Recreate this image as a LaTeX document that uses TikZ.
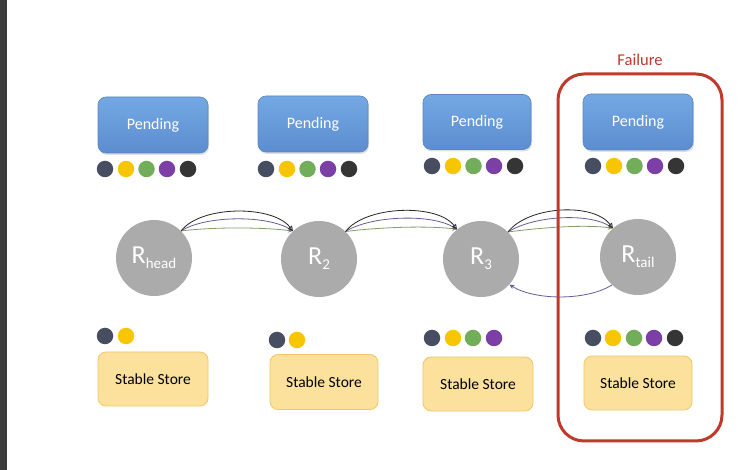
\documentclass[tikz,border=0pt]{standalone}
\usepackage{fontspec}
\setmainfont{Carlito}
\usetikzlibrary{arrows.meta,shadows}
\definecolor{dslate}{HTML}{474E62}
\definecolor{dyellow}{HTML}{F7C600}
\definecolor{dgreen}{HTML}{72AD5A}
\definecolor{dpurple}{HTML}{7B3FA6}
\definecolor{dblack}{HTML}{353535}
\definecolor{pendtop}{HTML}{74A8E3}
\definecolor{pendbot}{HTML}{5C8DD0}
\definecolor{pendline}{HTML}{5B86C2}
\definecolor{storefill}{HTML}{FCE19C}
\definecolor{storeline}{HTML}{F0C869}
\definecolor{circfill}{HTML}{ABABAB}
\definecolor{failred}{HTML}{C0392B}
\definecolor{arcpurple}{HTML}{6A5A9A}
\definecolor{arcgreen}{HTML}{7FA06A}
\definecolor{strip}{HTML}{3C3C3C}
\tikzset{
  pendbox/.style={draw=pendline, line width=0.6pt, rounded corners=8pt,
    top color=pendtop, bottom color=pendbot, minimum width=110pt, minimum height=56pt,
    text=white, font=\fontsize{16}{16}\selectfont,
    drop shadow={opacity=0.25, shadow xshift=1pt, shadow yshift=-2pt}},
  storebox/.style={draw=storeline, line width=0.8pt, rounded corners=8pt,
    fill=storefill, minimum width=108pt, minimum height=54pt,
    text=black, font=\fontsize{15.5}{16}\selectfont},
  replica/.style={circle, fill=circfill, minimum size=76pt, inner sep=0pt, text=white},
  dot/.style={circle, fill=#1, minimum size=16.5pt, inner sep=0pt},
  arcblack/.style={draw=black!85, line width=0.8pt, -{Triangle[open,length=5pt,width=5pt]}},
  arcpurp/.style={draw=arcpurple, line width=0.8pt, -{Stealth[length=5pt,width=4.5pt]}},
  arcgrn/.style={draw=arcgreen, line width=0.8pt, -{Stealth[length=5pt,width=4.5pt]}},
}
\newcommand{\rlabel}[1]{{\fontsize{26}{26}\selectfont R}{\fontsize{15}{15}\selectfont\raisebox{-5pt}{#1}}}
\begin{document}
\begin{tikzpicture}[x=1pt,y=-1pt]
\useasboundingbox (0,0) rectangle (748,470);
\fill[white] (0,0) rectangle (748,470);
\fill[strip] (0,0) rectangle (7,470);

% Pending boxes
\node[pendbox] (p1) at (153,125) {Pending};
\node[pendbox] (p2) at (313,124) {Pending};
\node[pendbox, minimum width=108pt, minimum height=55pt] (p3) at (477,122) {Pending};
\node[pendbox] (p4) at (638,122) {Pending};

% dots under pending
\foreach \cx/\cy/\nm in {105/169/a, 266/169/b, 432/166/c, 593/166/d}{
  \node[dot=dslate]  (pd\nm1) at (\cx,\cy) {};
  \node[dot=dyellow] (pd\nm2) at (\cx+21,\cy) {};
  \node[dot=dgreen]  (pd\nm3) at (\cx+41.5,\cy) {};
  \node[dot=dpurple] (pd\nm4) at (\cx+62,\cy) {};
  \node[dot=dblack]  (pd\nm5) at (\cx+83,\cy) {};
}

% replicas
\node[replica] (h)  at (154,258) {\rlabel{head}};
\node[replica] (r2) at (319,259) {\rlabel{2}};
\node[replica] (r3) at (481,259) {\rlabel{3}};
\node[replica] (t)  at (638,257) {\rlabel{tail}};

% forward arcs
\foreach \a/\b/\sa/\eb in {h/r2/45/133, r2/r3/46/129, r3/t/45/131}{
  \draw[arcgrn]   (\a.\sa) .. controls +(30,-4) and +(-30,-4) .. (\b.\eb);
  \draw[arcpurp]  (\a.\sa) .. controls +(25,-16) and +(-25,-16) .. (\b.\eb);
  \draw[arcblack] (\a.\sa) .. controls +(20,-26) and +(-20,-26) .. (\b.\eb);
}
% return arc
\draw[arcpurp] (t.227) .. controls +(-25,16) and +(25,16) .. (r3.318);

% stable stores
\node[storebox, minimum width=110pt] (s1) at (153,379) {Stable Store};
\node[storebox, minimum height=55pt] (s2) at (324,382) {Stable Store};
\node[storebox, minimum width=110pt] (s3) at (478,384) {Stable Store};
\node[storebox] (s4) at (638,383) {Stable Store};

% dots above stores
\node[dot=dslate]  (sa1) at (105,336) {};
\node[dot=dyellow] (sa2) at (126,336) {};
\node[dot=dslate]  (sb1) at (277,340) {};
\node[dot=dyellow] (sb2) at (297,340) {};
\node[dot=dslate]  (sc1) at (432,338) {};
\node[dot=dyellow] (sc2) at (453,338) {};
\node[dot=dgreen]  (sc3) at (473,338) {};
\node[dot=dpurple] (sc4) at (494,338) {};
\node[dot=dslate]  (sd1) at (593,338) {};
\node[dot=dyellow] (sd2) at (613,338) {};
\node[dot=dgreen]  (sd3) at (634,338) {};
\node[dot=dpurple] (sd4) at (654,338) {};
\node[dot=dblack]  (sd5) at (675,338) {};

% failure box
\node[draw=failred, line width=3pt, rounded corners=26pt, minimum width=164pt, minimum height=367pt] (fail) at (640,257.5) {};
\node[text=failred, font=\fontsize{16.5}{16}\selectfont] (failt) at (640,60) {Failure};
\end{tikzpicture}
\end{document}
